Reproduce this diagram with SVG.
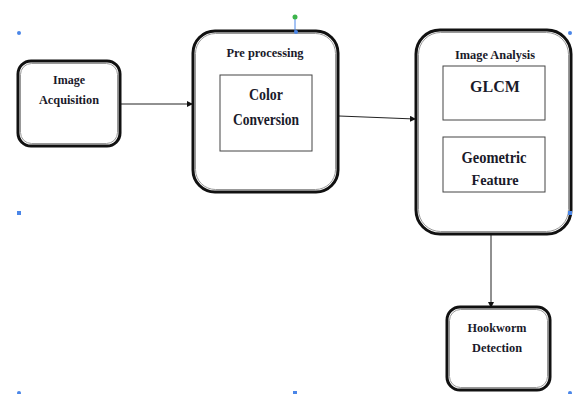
<svg xmlns="http://www.w3.org/2000/svg" width="574" height="394" viewBox="0 0 574 394">
<style>
.box{fill:#fff;stroke:#111;stroke-width:3}
.inner{fill:none;stroke:#999;stroke-width:1}
.sub{fill:#fff;stroke:#444;stroke-width:1}
.t{font-family:"Liberation Serif",serif;font-weight:bold;fill:#1a1a2a;text-anchor:middle}
.s{font-size:12.5px}
.b{font-size:16px}
.con{stroke:#222;stroke-width:1;fill:none}
.h{fill:#4a86e8}
</style>
<defs>
<marker id="ah" markerWidth="6" markerHeight="6" refX="5" refY="3" orient="auto" markerUnits="userSpaceOnUse">
<path d="M0,0 L6,3 L0,6 z" fill="#111"/>
</marker>
</defs>
<rect width="574" height="394" fill="#fff"/>
<g id="connectors">
<line class="con" x1="121" y1="104" x2="192" y2="104" marker-end="url(#ah)"/>
<line class="con" x1="339" y1="116" x2="415" y2="119" marker-end="url(#ah)"/>
<line class="con" x1="491" y1="234" x2="491" y2="307" marker-end="url(#ah)"/>
</g>
<g id="acquisition">
<rect class="box" x="18" y="61" width="102" height="85" rx="13"/>
<rect class="inner" x="20.5" y="63.5" width="97" height="80" rx="11"/>
<text class="t s" x="69" y="84" textLength="32" lengthAdjust="spacingAndGlyphs">Image</text>
<text class="t s" x="69" y="104" textLength="60" lengthAdjust="spacingAndGlyphs">Acquisition</text>
</g>
<g id="preprocessing">
<rect class="box" x="193" y="31" width="145" height="161" rx="22"/>
<rect class="inner" x="195.5" y="33.5" width="140" height="156" rx="20"/>
<text class="t s" x="265" y="57" textLength="77" lengthAdjust="spacingAndGlyphs">Pre processing</text>
<rect class="sub" x="220" y="75" width="92" height="76"/>
<text class="t b" x="266" y="100" textLength="34" lengthAdjust="spacingAndGlyphs">Color</text>
<text class="t b" x="266" y="125" textLength="66" lengthAdjust="spacingAndGlyphs">Conversion</text>
</g>
<g id="analysis">
<rect class="box" x="416" y="30" width="155" height="204" rx="24"/>
<rect class="inner" x="418.5" y="32.5" width="150" height="199" rx="22"/>
<text class="t s" x="495" y="59" textLength="80" lengthAdjust="spacingAndGlyphs">Image Analysis</text>
<rect class="sub" x="443" y="66" width="102" height="54"/>
<text class="t b" x="495" y="92">GLCM</text>
<rect class="sub" x="443" y="137" width="102" height="55"/>
<text class="t b" x="494" y="163" textLength="65" lengthAdjust="spacingAndGlyphs">Geometric</text>
<text class="t" style="font-size:14px" x="495" y="185" textLength="47" lengthAdjust="spacingAndGlyphs">Feature</text>
</g>
<g id="detection">
<rect class="box" x="447" y="307" width="103" height="83" rx="13"/>
<rect class="inner" x="449.5" y="309.5" width="98" height="78" rx="11"/>
<text class="t s" x="497" y="332" textLength="59" lengthAdjust="spacingAndGlyphs">Hookworm</text>
<text class="t s" x="497" y="352" textLength="50" lengthAdjust="spacingAndGlyphs">Detection</text>
</g>
<g id="handles">
<line x1="295" y1="17" x2="295" y2="31" stroke="#4a86e8" stroke-width="1"/>
<circle cx="295" cy="17" r="2.5" fill="#3cb44b"/>
<circle cx="296" cy="32" r="2" class="h"/>
<circle cx="19" cy="33" r="2" class="h"/>
<rect x="17" y="211" width="4" height="4" class="h"/>
<circle cx="19" cy="393" r="2" class="h"/>
<rect x="293" y="391" width="4" height="4" class="h"/>
<circle cx="570" cy="33" r="2" class="h"/>
<rect x="568" y="211" width="4" height="4" class="h"/>
<circle cx="570" cy="393" r="2" class="h"/>
</g>
</svg>
